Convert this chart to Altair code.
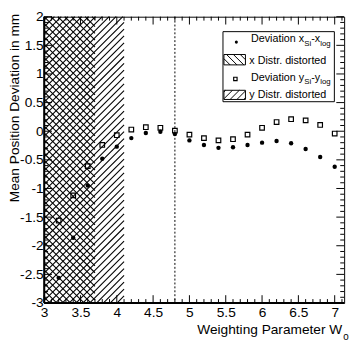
import altair as alt
import pandas as pd
import numpy as np

# ---------------- data ----------------
w0 = [3.2, 3.4, 3.6, 3.8, 4.0, 4.2, 4.4, 4.6, 4.8, 5.0,
      5.2, 5.4, 5.6, 5.8, 6.0, 6.2, 6.4, 6.6, 6.8, 7.0]
dev_x = [-2.56, -1.86, -0.95, -0.48, -0.27, -0.12, -0.03, -0.01, -0.05, -0.16,
         -0.24, -0.29, -0.28, -0.24, -0.20, -0.17, -0.21, -0.31, -0.45, -0.62]
dev_y = [-1.56, -1.12, -0.61, -0.24, -0.07, 0.03, 0.07, 0.06, 0.01, -0.06,
         -0.12, -0.16, -0.14, -0.06, 0.06, 0.16, 0.21, 0.19, 0.11, -0.04]

x_distorted = [3.0, 3.7]   # W0 range where x distribution is distorted
y_distorted = [3.0, 4.1]   # W0 range where y distribution is distorted
chosen_w0 = [4.8]

x_major = [3.0, 3.5, 4.0, 4.5, 5.0, 5.5, 6.0, 6.5, 7.0]
y_major = [-3.0, -2.5, -2.0, -1.5, -1.0, -0.5, 0.0, 0.5, 1.0, 1.5, 2.0]

X_DOMAIN = [3.0, 7.13]
Y_DOMAIN = [-3.0, 2.0]
W, H = 307, 293
FONT = "Liberation Sans"

x_minor = [round(v, 1) for v in np.arange(3.0, 7.11, 0.1) if round(v * 10) % 5 != 0]
y_minor = [round(v, 1) for v in np.arange(-3.0, 2.01, 0.1) if round(v * 10) % 5 != 0]

xs = alt.Scale(domain=X_DOMAIN, nice=False, zero=False)
ys = alt.Scale(domain=Y_DOMAIN, nice=False, zero=False)


def px2x(p):
    return X_DOMAIN[0] + p / W * (X_DOMAIN[1] - X_DOMAIN[0])


def py2y(p):
    return Y_DOMAIN[1] - p / H * (Y_DOMAIN[1] - Y_DOMAIN[0])


def x2px(v):
    return (v - X_DOMAIN[0]) / (X_DOMAIN[1] - X_DOMAIN[0]) * W


def hatch(x0, x1, y0, y1, kind, spacing=7.0, phase=0.0):
    segs = []
    if kind == "/":
        cmin, cmax = x0 + y0, x1 + y1
    else:
        cmin, cmax = x0 - y1, x1 - y0
    k = np.floor((cmin - phase) / spacing)
    c = phase + k * spacing
    while c <= cmax:
        if kind == "/":
            lo, hi = max(x0, c - y1), min(x1, c - y0)
            if hi > lo:
                segs.append((lo, c - lo, hi, c - hi))
        else:
            lo, hi = max(x0, y0 + c), min(x1, y1 + c)
            if hi > lo:
                segs.append((lo, lo - c, hi, hi - c))
        c += spacing
    return segs


def seg_df(segs):
    return pd.DataFrame({
        "x": [px2x(s[0]) for s in segs], "y": [py2y(s[1]) for s in segs],
        "x2": [px2x(s[2]) for s in segs], "y2": [py2y(s[3]) for s in segs],
    })


x_axis = alt.Axis(values=x_major, labelExpr="toString(datum.value)", title=None,
                  ticks=False, tickSize=0, domain=False, grid=False, labelFlush=False,
                  labelFont=FONT, labelFontSize=14, labelColor="black", labelPadding=3,
                  labelOverlap=False)
y_axis = alt.Axis(values=y_major, labelExpr="toString(datum.value)", title=None,
                  ticks=False, tickSize=0, domain=False, grid=False, labelFlush=False,
                  labelFont=FONT, labelFontSize=14, labelColor="black", labelPadding=1,
                  labelOverlap=False)

pts = pd.DataFrame({"w": w0, "dx": dev_x, "dy": dev_y})

dots = alt.Chart(pts).mark_point(shape="circle", filled=True, size=20, color="black", opacity=1).encode(
    x=alt.X("w:Q", scale=xs, axis=x_axis),
    y=alt.Y("dx:Q", scale=ys, axis=y_axis),
)
squares = alt.Chart(pts).mark_point(shape="square", filled=False, size=22, color="black",
                                    strokeWidth=1.2, opacity=1).encode(
    x=alt.X("w:Q", scale=xs, axis=x_axis),
    y=alt.Y("dy:Q", scale=ys, axis=y_axis),
)

# hatched regions
hx = hatch(0, x2px(x_distorted[1]), 0, H, "\\", 7.0, 0.0)
hy = hatch(0, x2px(y_distorted[1]), 0, H, "/", 7.0, 3.5)
hatch_layer = alt.Chart(seg_df(hx + hy)).mark_rule(color="black", strokeWidth=1.1).encode(
    x=alt.X("x:Q", scale=xs, axis=x_axis), y=alt.Y("y:Q", scale=ys, axis=y_axis),
    x2="x2:Q", y2="y2:Q",
)

vline = alt.Chart(pd.DataFrame({"w": chosen_w0})).mark_rule(
    color="black", strokeWidth=1, strokeDash=[2, 2]).encode(
    x=alt.X("w:Q", scale=xs, axis=x_axis), y=alt.value(0), y2=alt.value(H))


def xticks(vals, y0, y1):
    return alt.Chart(pd.DataFrame({"w": vals})).mark_rule(color="black", strokeWidth=1).encode(
        x=alt.X("w:Q", scale=xs, axis=x_axis), y=alt.value(y0), y2=alt.value(y1))


def yticks(vals, x0, x1):
    return alt.Chart(pd.DataFrame({"v": vals})).mark_rule(color="black", strokeWidth=1).encode(
        y=alt.Y("v:Q", scale=ys, axis=y_axis), x=alt.value(x0), x2=alt.value(x1))


MAJ, MIN = 8, 4
ticks = [
    xticks(x_major, H, H - MAJ), xticks(x_minor, H, H - MIN),
    xticks(x_major, 0, MAJ), xticks(x_minor, 0, MIN),
    yticks(y_major, 0, MAJ), yticks(y_minor, 0, MIN),
    yticks(y_major, W, W - MAJ), yticks(y_minor, W, W - MIN),
]

one = pd.DataFrame({"a": [0]})
frame_lr = alt.Chart(one).mark_rule(color="black", strokeWidth=2).encode(
    x=alt.value(0), y=alt.value(0), y2=alt.value(H))
frame_b = alt.Chart(one).mark_rule(color="black", strokeWidth=2).encode(
    x=alt.value(0), x2=alt.value(W), y=alt.value(H))


def txt(s, px, py, size, align="left", angle=0):
    return alt.Chart(one).mark_text(text=s, font=FONT, fontSize=size, align=align,
                                    baseline="alphabetic", angle=angle, color="black").encode(
        x=alt.value(px), y=alt.value(py))


# legend
LX0, LX1, LY0, LY1 = 183, 297, 15.3, 87
leg_box = alt.Chart(one).mark_rect(fill="white", stroke="black", strokeWidth=1).encode(
    x=alt.value(LX0), x2=alt.value(LX1), y=alt.value(LY0), y2=alt.value(LY1))
box2 = (184, 206, 38.7, 49.3)
box4 = (184, 206, 75.3, 84.7)
leg_hatch = alt.Chart(seg_df(hatch(*box2, "\\", 7.0, 1.0) + hatch(*box4, "/", 7.0, 2.0))).mark_rule(
    color="black", strokeWidth=1).encode(
    x=alt.X("x:Q", scale=xs, axis=x_axis), y=alt.Y("y:Q", scale=ys, axis=y_axis),
    x2="x2:Q", y2="y2:Q")
leg_boxes = alt.Chart(pd.DataFrame({
    "x": [px2x(box2[0]), px2x(box4[0])], "x2": [px2x(box2[1]), px2x(box4[1])],
    "y": [py2y(box2[2]), py2y(box4[2])], "y2": [py2y(box2[3]), py2y(box4[3])]})).mark_rect(
    fill=None, stroke="black", strokeWidth=1, fillOpacity=0).encode(
    x=alt.X("x:Q", scale=xs, axis=x_axis), y=alt.Y("y:Q", scale=ys, axis=y_axis),
    x2="x2:Q", y2="y2:Q")
leg_dot = alt.Chart(pd.DataFrame({"w": [px2x(196.7)], "v": [py2y(26)]})).mark_point(
    shape="circle", filled=True, size=10, color="black", opacity=1).encode(
    x=alt.X("w:Q", scale=xs, axis=x_axis), y=alt.Y("v:Q", scale=ys, axis=y_axis))
leg_sq = alt.Chart(pd.DataFrame({"w": [px2x(195.7)], "v": [py2y(63.7)]})).mark_point(
    shape="square", filled=False, size=12, color="black", strokeWidth=1.2, opacity=1).encode(
    x=alt.X("w:Q", scale=xs, axis=x_axis), y=alt.Y("v:Q", scale=ys, axis=y_axis))

texts = [
    txt("Deviation x", 211.7, 26, 11), txt("Si", 266.2, 29.5, 8),
    txt("-x", 273.3, 26, 11), txt("log", 282.5, 29.5, 8),
    txt("x Distr. distorted", 210, 48.7, 11),
    txt("Deviation y", 211.7, 65.3, 11), txt("Si", 266.2, 68.8, 8),
    txt("-y", 273.3, 65.3, 11), txt("log", 282.5, 68.8, 8),
    txt("y Distr. distorted", 210, 82.7, 11),
    txt("Mean Position Deviation in mm", -26, -3, 14, align="right", angle=270),
    txt("Weighting Parameter W", 305, 325, 14, align="right"),
    txt("0", 306, 331, 10),
]

chart = alt.layer(
    dots, squares, hatch_layer, vline, *ticks, frame_lr, frame_b,
    leg_box, leg_hatch, leg_boxes, leg_dot, leg_sq, *texts,
).properties(
    width=W, height=H,
    padding={"left": 37, "top": 5, "right": 6, "bottom": 36},
    autosize=alt.AutoSizeParams(type="none"),
    background="white",
).configure_view(stroke="black", strokeWidth=1)

chart.save("out.html", embed_options={"renderer": "svg", "actions": False})
